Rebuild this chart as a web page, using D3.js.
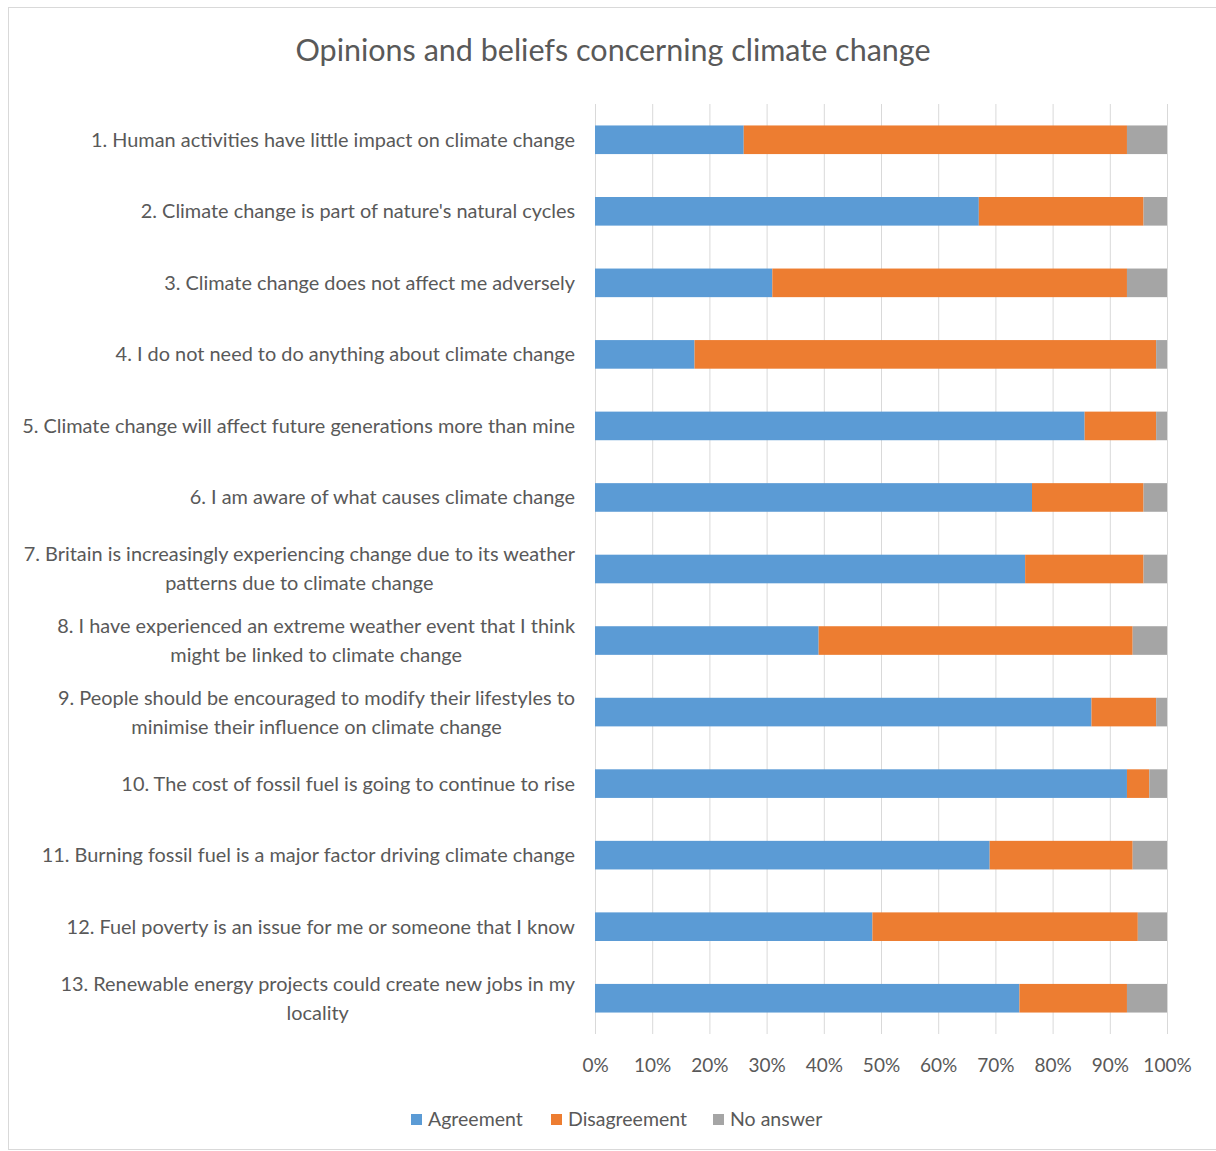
<!DOCTYPE html>
<html>
<head>
<meta charset="utf-8">
<script src="https://cdn.jsdelivr.net/npm/d3@7"></script>
<style>
  html, body { margin: 0; padding: 0; background: #fff; }
  svg text { font-family: Lato, "Open Sans", sans-serif; fill: #595959; }
</style>
</head>
<body>
<svg id="chart" width="1216" height="1151"></svg>
<script>
// Survey statements (each entry is a list of display lines)
const statements = [
  ["1. Human activities have little impact on climate change"],
  ["2. Climate change is part of nature's natural cycles"],
  ["3. Climate change does not affect me adversely"],
  ["4. I do not need to do anything about climate change"],
  ["5. Climate change will affect future generations more than mine"],
  ["6. I am aware of what causes climate change"],
  ["7. Britain is increasingly experiencing change due to its weather", "patterns due to climate change"],
  ["8. I have experienced an extreme weather event that I think", "might be linked to climate change"],
  ["9. People should be encouraged to modify their lifestyles to", "minimise their influence on climate change"],
  ["10. The cost of fossil fuel is going to continue to rise"],
  ["11. Burning fossil fuel is a major factor driving climate change"],
  ["12. Fuel poverty is an issue for me or someone that I know"],
  ["13. Renewable energy projects could create new jobs in my", "locality"]
];

// Response shares in percent
const agreement    = [26.0, 67.1, 31.0, 17.4, 85.6, 76.4, 75.2, 39.1, 86.8, 93.0, 69.0, 48.5, 74.2];
const disagreement = [67.0, 28.8, 62.0, 80.7, 12.5, 19.5, 20.7, 54.9, 11.3,  3.9, 25.0, 46.4, 18.8];
const noAnswer     = [ 7.0,  4.1,  7.0,  1.9,  1.9,  4.1,  4.1,  6.0,  1.9,  3.1,  6.0,  5.1,  7.0];

const seriesNames = ["Agreement", "Disagreement", "No answer"];
const seriesColors = ["#5B9BD5", "#ED7D31", "#A5A5A5"];
const tickValues = [0, 10, 20, 30, 40, 50, 60, 70, 80, 90, 100];

const svg = d3.select("#chart");

// chart frame
svg.append("rect")
  .attr("x", 8.5).attr("y", 7.5)
  .attr("width", 1215).attr("height", 1142)
  .attr("fill", "#fff").attr("stroke", "#D9D9D9");

svg.append("text")
  .attr("x", 613).attr("y", 61)
  .attr("text-anchor", "middle")
  .style("font-size", "30.5px")
  .text("Opinions and beliefs concerning climate change");

const plot = { left: 595, right: 1167, top: 104, bottom: 1034 };

const x = d3.scaleLinear().domain([0, 100]).range([plot.left, plot.right]);
const y = d3.scaleBand()
  .domain(d3.range(statements.length))
  .range([plot.top, plot.bottom])
  .paddingInner(0.6).paddingOuter(0.3);

// vertical gridlines and percent labels
const xAxis = d3.axisBottom(x)
  .tickValues(tickValues)
  .tickSize(-(plot.bottom - plot.top))
  .tickFormat(d => d + "%");

const gx = svg.append("g")
  .attr("transform", `translate(0,${plot.bottom})`)
  .call(xAxis);
gx.select(".domain").remove();
gx.selectAll(".tick line").attr("stroke", "#D9D9D9").attr("stroke-width", 1);
gx.selectAll(".tick text")
  .attr("y", 25)
  .style("font-size", "19px")
  .style("font-family", "Lato, 'Open Sans', sans-serif")
  .attr("fill", "#595959");

// stacked bars
const rows = statements.map((s, i) => ({
  i, values: [agreement[i], disagreement[i], noAnswer[i]]
}));
const stack = d3.stack().keys([0, 1, 2]).value((d, k) => d.values[k]);
const layers = stack(rows);

svg.append("g").selectAll("g")
  .data(layers)
  .join("g")
  .attr("fill", (d, k) => seriesColors[k])
  .selectAll("rect")
  .data(d => d)
  .join("rect")
  .attr("x", d => x(d[0]))
  .attr("width", d => x(d[1]) - x(d[0]))
  .attr("y", d => y(d.data.i))
  .attr("height", y.bandwidth());

// category labels: block right-aligned against the plot, lines centred within it
const labelRight = 575;
const lineGap = 29;
const labels = svg.append("g").style("font-size", "19.9px");
statements.forEach((lines, i) => {
  const cy = y(i) + y.bandwidth() / 2;
  const g = labels.append("g");
  const texts = lines.map((ln, j) => g.append("text")
    .attr("y", cy + (j - (lines.length - 1) / 2) * lineGap)
    .attr("dy", "0.35em")
    .text(ln));
  const maxW = d3.max(texts, t => t.node().getComputedTextLength());
  texts.forEach(t => t.attr("x", labelRight - maxW / 2).attr("text-anchor", "middle"));
});

// legend
const legendX = [411, 551, 713];
const legend = svg.append("g").attr("transform", "translate(0,1119)");
seriesNames.forEach((name, k) => {
  legend.append("rect")
    .attr("x", legendX[k]).attr("y", -5)
    .attr("width", 11).attr("height", 11)
    .attr("fill", seriesColors[k]);
  legend.append("text")
    .attr("x", legendX[k] + 17).attr("y", 0)
    .attr("dy", "0.35em")
    .style("font-size", "19.5px")
    .text(name);
});
</script>
</body>
</html>
